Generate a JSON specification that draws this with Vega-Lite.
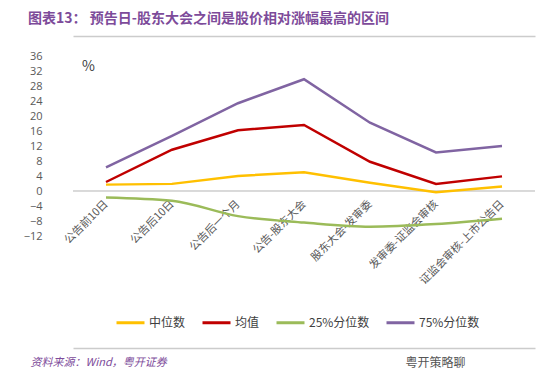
{
  "$schema": "https://vega.github.io/schema/vega-lite/v6.json",
  "width": 462,
  "height": 180,
  "autosize": {"type": "none"},
  "padding": {"left": 73, "top": 56, "right": 15, "bottom": 153},
  "background": "white",
  "config": {
    "view": {"stroke": null},
    "font": "Noto Sans CJK SC",
    "axis": {"labelFont": "Noto Sans CJK SC", "titleFont": "Noto Sans CJK SC"}
  },
  "title": {
    "text": "图表13：  预告日-股东大会之间是股价相对涨幅最高的区间",
    "anchor": "start",
    "frame": "group",
    "dx": -45,
    "offset": 10,
    "fontSize": 14,
    "fontWeight": "bold",
    "color": "#7D4B9A",
    "font": "Noto Sans CJK SC"
  },
  "data": {
    "values": [
      {"cat": "公告前10日", "series": "中位数", "value": 1.7},
      {"cat": "公告后10日", "series": "中位数", "value": 1.9},
      {"cat": "公告后一个月", "series": "中位数", "value": 4.0},
      {"cat": "公告-股东大会", "series": "中位数", "value": 5.0},
      {"cat": "股东大会-发审委", "series": "中位数", "value": 2.2},
      {"cat": "发审委-证监会审核", "series": "中位数", "value": -0.3},
      {"cat": "证监会审核-上市公告日", "series": "中位数", "value": 1.2},
      {"cat": "公告前10日", "series": "均值", "value": 2.4},
      {"cat": "公告后10日", "series": "均值", "value": 11.0},
      {"cat": "公告后一个月", "series": "均值", "value": 16.2},
      {"cat": "公告-股东大会", "series": "均值", "value": 17.6},
      {"cat": "股东大会-发审委", "series": "均值", "value": 7.8},
      {"cat": "发审委-证监会审核", "series": "均值", "value": 1.9},
      {"cat": "证监会审核-上市公告日", "series": "均值", "value": 3.9},
      {"cat": "公告前10日", "series": "25%分位数", "value": -1.7},
      {"cat": "公告后10日", "series": "25%分位数", "value": -2.6},
      {"cat": "公告后一个月", "series": "25%分位数", "value": -6.7},
      {"cat": "公告-股东大会", "series": "25%分位数", "value": -8.4},
      {"cat": "股东大会-发审委", "series": "25%分位数", "value": -9.5},
      {"cat": "发审委-证监会审核", "series": "25%分位数", "value": -8.8},
      {"cat": "证监会审核-上市公告日", "series": "25%分位数", "value": -7.4},
      {"cat": "公告前10日", "series": "75%分位数", "value": 6.3},
      {"cat": "公告后10日", "series": "75%分位数", "value": 14.7},
      {"cat": "公告后一个月", "series": "75%分位数", "value": 23.4},
      {"cat": "公告-股东大会", "series": "75%分位数", "value": 29.8},
      {"cat": "股东大会-发审委", "series": "75%分位数", "value": 18.2},
      {"cat": "发审委-证监会审核", "series": "75%分位数", "value": 10.3},
      {"cat": "证监会审核-上市公告日", "series": "75%分位数", "value": 12.0}
    ]
  },
  "resolve": {"axis": {"x": "independent", "y": "independent"}},
  "layer": [
    {
      "mark": {"type": "rule", "color": "#D9D9D9", "strokeWidth": 1},
      "encoding": {
        "y": {
          "datum": 0,
          "type": "quantitative",
          "axis": {
            "orient": "right",
            "labels": false,
            "ticks": false,
            "domain": false,
            "grid": false,
            "title": "粤开策略聊",
            "titleAngle": 0,
            "titleX": -130,
            "titleY": 306,
            "titleAlign": "left",
            "titleBaseline": "middle",
            "titleFontSize": 12,
            "titleFontWeight": "normal",
            "titleColor": "#555555"
          }
        }
      }
    },
    {
      "mark": {"type": "point", "opacity": 0},
      "encoding": {
        "x": {
          "field": "cat",
          "type": "nominal",
          "sort": null,
          "axis": {
            "orient": "top",
            "offset": 20,
            "labels": false,
            "ticks": false,
            "domain": true,
            "domainColor": "#CCCCCC",
            "domainWidth": 1.5,
            "domainOpacity": 1,
            "grid": false,
            "title": null
          }
        }
      }
    },
    {
      "mark": {"type": "point", "opacity": 0},
      "encoding": {
        "x": {
          "field": "cat",
          "type": "nominal",
          "sort": null,
          "axis": {
            "orient": "top",
            "offset": -292,
            "labels": false,
            "ticks": false,
            "domain": true,
            "domainColor": "#CCCCCC",
            "domainWidth": 1.5,
            "domainOpacity": 1,
            "grid": false,
            "title": "资料来源：Wind，粤开证券",
            "titleX": -43,
            "titleY": 14,
            "titleAlign": "left",
            "titleBaseline": "middle",
            "titleFontSize": 11,
            "titleFontStyle": "italic",
            "titleFontWeight": "normal",
            "titleColor": "#7D4B9A"
          }
        }
      }
    },
    {
      "transform": [{"filter": "datum.series === '25%分位数'"}],
      "mark": {"type": "line", "strokeWidth": 2.5, "interpolate": "monotone"},
      "encoding": {
        "x": {"field": "cat", "type": "nominal", "sort": null, "axis": null},
        "y": {"field": "value", "type": "quantitative", "axis": null},
        "color": {
          "field": "series",
          "type": "nominal",
          "legend": {
            "orient": "none",
            "legendX": 42,
            "legendY": 251,
            "direction": "horizontal",
            "title": null,
            "values": ["中位数", "均值", "25%分位数", "75%分位数"],
            "symbolType": "stroke",
            "symbolSize": 784,
            "symbolStrokeWidth": 3,
            "labelFontSize": 12,
            "labelColor": "#404040",
            "labelOffset": 3,
            "columnPadding": 10
          }
        }
      }
    },
    {
      "transform": [{"filter": "datum.series !== '25%分位数'"}],
      "mark": {"type": "line", "strokeWidth": 2.5},
      "encoding": {
        "x": {
          "field": "cat",
          "type": "nominal",
          "sort": null,
          "scale": {"type": "point", "padding": 0.5},
          "axis": {
            "orient": "bottom",
            "offset": -38,
            "labelAngle": -45,
            "labelAlign": "right",
            "labelBaseline": "middle",
            "labelPadding": 4,
            "labelFontSize": 11,
            "labelColor": "#595959",
            "ticks": false,
            "domain": false,
            "grid": false,
            "title": null
          }
        },
        "y": {
          "field": "value",
          "type": "quantitative",
          "scale": {"domain": [-12, 36], "nice": false, "zero": false},
          "axis": {
            "orient": "left",
            "values": [-12, -8, -4, 0, 4, 8, 12, 16, 20, 24, 28, 32, 36],
            "labelPadding": 31,
            "labelFontSize": 11,
            "labelColor": "#595959",
            "labelFont": "Open Sans",
            "ticks": false,
            "domain": false,
            "grid": false,
            "title": "%",
            "titleAngle": 0,
            "titleX": 15,
            "titleY": 10,
            "titleAlign": "center",
            "titleBaseline": "middle",
            "titleFontSize": 14,
            "titleFontWeight": "normal",
            "titleColor": "#404040"
          }
        },
        "color": {
          "field": "series",
          "type": "nominal",
          "scale": {
            "domain": ["中位数", "均值", "25%分位数", "75%分位数"],
            "range": ["#FFC000", "#C00000", "#9BBB59", "#8064A2"]
          },
          "legend": {
            "orient": "none",
            "legendX": 42,
            "legendY": 251,
            "direction": "horizontal",
            "title": null,
            "values": ["中位数", "均值", "25%分位数", "75%分位数"],
            "symbolType": "stroke",
            "symbolSize": 784,
            "symbolStrokeWidth": 3,
            "labelFontSize": 12,
            "labelColor": "#404040",
            "labelOffset": 3,
            "columnPadding": 10
          }
        }
      }
    }
  ]
}
